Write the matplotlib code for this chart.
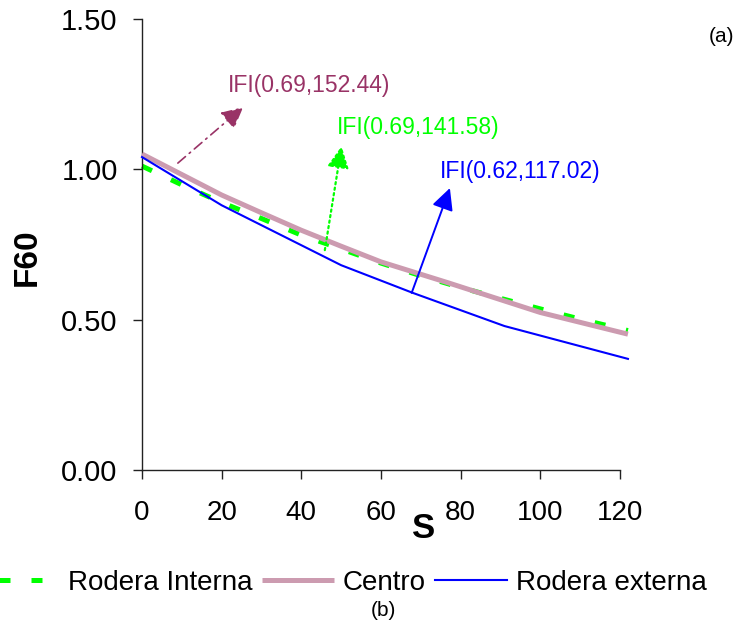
import matplotlib
matplotlib.use("Agg")
import matplotlib.pyplot as plt

# F60 vs S for the three measurement lines
s_int = [0, 10, 20, 30, 40, 50, 60, 70, 80, 90, 100, 110, 122]
f_int = [1.01, 0.948, 0.889, 0.836, 0.781, 0.735, 0.688, 0.646, 0.607, 0.571, 0.536, 0.502, 0.464]

s_cen = [0, 10, 20, 30, 40, 50, 60, 77, 100, 122]
f_cen = [1.05, 0.982, 0.914, 0.855, 0.797, 0.744, 0.692, 0.622, 0.524, 0.452]

s_ext = [0, 20, 50, 68, 91, 122]
f_ext = [1.04, 0.880, 0.681, 0.589, 0.479, 0.370]

ifi_labels = ["IFI(0.69,152.44)", "IFI(0.69,141.58)", "IFI(0.62,117.02)"]

plt.rcParams['font.family'] = ['Liberation Sans', 'DejaVu Sans']

fig = plt.figure(figsize=(7.35, 6.28), dpi=100)
ax = fig.add_axes([0.1932, 0.2511, 0.6503, 0.7194])

c_int = '#00FF00'
c_cen = '#CC9BB0'
c_ext = '#0000FF'
c_mar = '#993366'

ax.plot(s_int, f_int, color=c_int, lw=3.6, dashes=(2.2, 4.2), clip_on=False,
        label='Rodera Interna', zorder=2)
ax.plot(s_cen, f_cen, color=c_cen, lw=3.6, clip_on=False, label='Centro',
        solid_capstyle='butt', zorder=3)
ax.plot(s_ext, f_ext, color=c_ext, lw=1.5, clip_on=False,
        label='Rodera externa', zorder=4)

ax.set_xlim(0, 120)
ax.set_ylim(0, 1.5)
ax.set_xticks([0, 20, 40, 60, 80, 100, 120])
ax.set_yticks([0, 0.5, 1.0, 1.5])
ax.set_yticklabels(['0.00', '0.50', '1.00', '1.50'])
for sp in ['top', 'right']:
    ax.spines[sp].set_visible(False)
for sp in ['left', 'bottom']:
    ax.spines[sp].set_linewidth(1.0)
    ax.spines[sp].set_color('#222222')
ax.tick_params(axis='both', direction='out', length=6.5, width=1.0,
               color='#222222', labelsize=20)
ax.tick_params(axis='x', pad=15)
ax.tick_params(axis='y', labelsize=21, pad=11)

# IFI annotations
arrow_kw = dict(arrowstyle='-|>,head_length=0.6,head_width=0.3',
                mutation_scale=22, shrinkA=0, shrinkB=0)
ax.annotate('', xy=(25.4, 1.206), xytext=(9.0, 1.020),
            arrowprops=dict(color=c_mar, lw=1.2, linestyle=(0, (6, 3, 1, 3)), **arrow_kw),
            annotation_clip=False)
ax.annotate('', xy=(50.1, 1.076), xytext=(45.9, 0.731),
            arrowprops=dict(color=c_int, lw=1.6, linestyle=(0, (1, 1.5)), **arrow_kw),
            annotation_clip=False)
ax.annotate('', xy=(77.3, 0.937), xytext=(67.7, 0.589),
            arrowprops=dict(color=c_ext, lw=1.4, **arrow_kw),
            annotation_clip=False)

ax.text(21.6, 1.278, ifi_labels[0], color=c_mar, fontsize=16.5, va='center', ha='left')
ax.text(49.0, 1.139, ifi_labels[1], color=c_int, fontsize=16.5, va='center', ha='left')
ax.text(74.8, 0.993, ifi_labels[2], color=c_ext, fontsize=16.5, va='center', ha='left')

fig.text(27 / 735, 1 - 257 / 628, 'F60', rotation=90, ha='center', va='center',
         fontsize=24, fontweight='bold')
fig.text(424 / 735, 1 - 529 / 628, 'S', ha='center', va='center',
         fontsize=25, fontweight='bold')
fig.text(721 / 735, 1 - 36 / 628, '(a)', ha='center', va='center', fontsize=15)
fig.text(383 / 735, 1 - 610 / 628, '(b)', ha='center', va='center', fontsize=15)

fig.legend(loc='center left', bbox_to_anchor=(-13 / 735, 1 - 583 / 628), ncol=3,
           frameon=False, fontsize=20, handlelength=2.6, handletextpad=0.3,
           columnspacing=0.35, borderpad=0, borderaxespad=0)

fig.savefig('out.png', dpi=100)
